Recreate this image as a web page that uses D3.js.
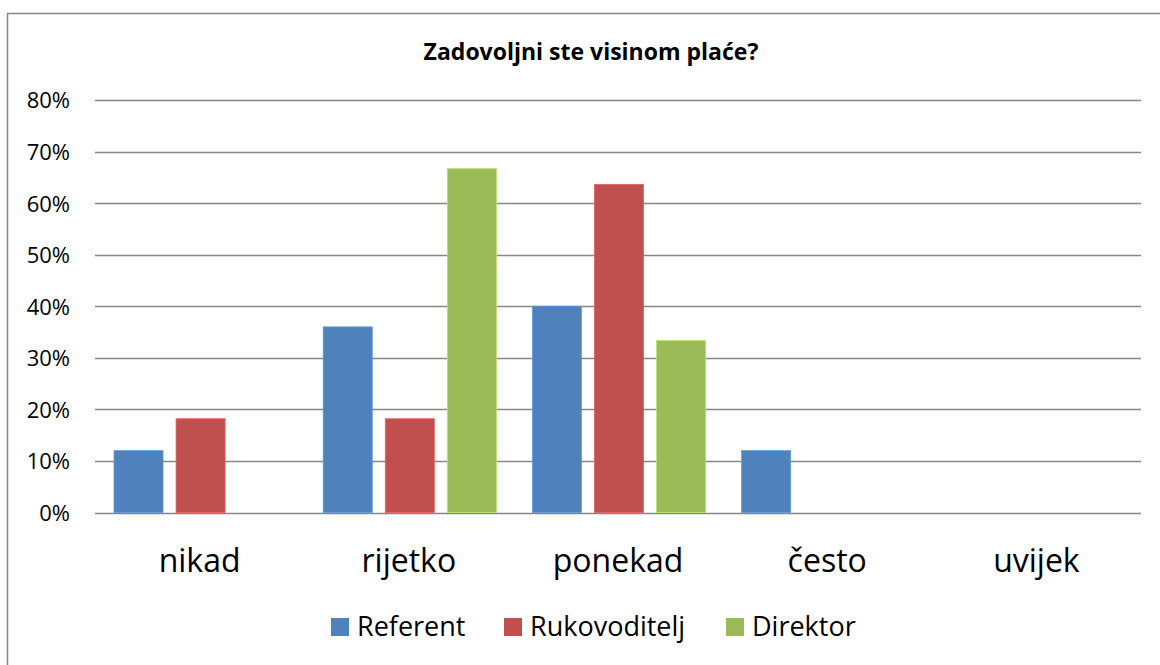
<!DOCTYPE html>
<html>
<head>
<meta charset="utf-8">
<script src="https://cdn.jsdelivr.net/npm/d3@7"></script>
<style>
  body { margin: 0; background: #fff; }
  text { font-family: "Open Sans", Lato, sans-serif; fill: #000; }
</style>
</head>
<body>
<div id="chart"></div>
<script>
var categories = ["nikad", "rijetko", "ponekad", "često", "uvijek"];
var seriesNames = ["Referent", "Rukovoditelj", "Direktor"];
var referent = [0.12, 0.36, 0.40, 0.12, 0];
var rukovoditelj = [0.1818, 0.1818, 0.6364, 0, 0];
var direktor = [0, 0.6667, 0.3333, 0, 0];
var yTicks = [0, 0.1, 0.2, 0.3, 0.4, 0.5, 0.6, 0.7, 0.8];
var colors = ["#4F81BD", "#C0504D", "#9BBB59"];

var width = 1160, height = 665;
var series = [referent, rukovoditelj, direktor];
var fontFamily = "'Open Sans', Lato, sans-serif";

var svg = d3.select("#chart").append("svg")
    .attr("width", width)
    .attr("height", height);

// chart frame (runs past the right and bottom edges of the picture)
svg.append("rect")
    .attr("x", 7.5).attr("y", 13.5)
    .attr("width", 1200).attr("height", 700)
    .attr("fill", "#fff")
    .attr("stroke", "#878787")
    .attr("stroke-width", 1.5);

svg.append("text")
    .attr("x", 591).attr("y", 60)
    .attr("text-anchor", "middle")
    .style("font-size", "23px")
    .style("font-weight", "bold")
    .text("Zadovoljni ste visinom plaće?");

var x0 = d3.scaleBand().domain(categories).range([95, 1141]);
var y = d3.scaleLinear().domain([0, 0.8]).range([512.5, 100]);

// bars inside each category: outer gap 19px, bar ~48.7px, inner gap 13px
var x1 = d3.scaleBand().domain(seriesNames)
    .range([19, x0.bandwidth() - 17])
    .paddingInner(0.21);

// gridlines
svg.append("g").selectAll("line").data(yTicks).enter().append("line")
    .attr("x1", 95).attr("x2", 1141)
    .attr("y1", function(d){ return Math.round(y(d)) + 0.5; })
    .attr("y2", function(d){ return Math.round(y(d)) + 0.5; })
    .attr("stroke", "#868686")
    .attr("stroke-width", 1.3);

var yAxis = d3.axisLeft(y).tickValues(yTicks)
    .tickFormat(d3.format(".0%")).tickSize(0).tickPadding(25);
var gy = svg.append("g").attr("transform", "translate(95,0)").call(yAxis);
gy.select(".domain").remove();
gy.selectAll("text")
    .style("font-size", "22px")
    .style("font-family", fontFamily)
    .attr("dy", "0.36em")
    .attr("fill", "#000");

// bars
var groups = svg.append("g").selectAll("g").data(series).enter().append("g")
    .attr("fill", function(d, i){ return colors[i]; });
groups.each(function(vals, si){
    d3.select(this).selectAll("rect").data(vals).enter().append("rect")
        .attr("x", function(d, ci){ return x0(categories[ci]) + x1(seriesNames[si]); })
        .attr("width", x1.bandwidth())
        .attr("y", function(d){ return y(d); })
        .attr("height", function(d){ return y(0) - y(d); })
        .attr("stroke", function(){ return d3.rgb(colors[si]).brighter(0.5); })
        .attr("stroke-width", function(d){ return d > 0 ? 0.8 : 0; });
});

// category labels
var xAxis = d3.axisBottom(x0).tickSize(0).tickPadding(37);
var gx = svg.append("g").attr("transform", "translate(0," + y(0) + ")").call(xAxis);
gx.select(".domain").remove();
gx.selectAll("text")
    .style("font-size", "32px")
    .style("font-family", fontFamily)
    .attr("fill", "#000");

// legend
var legendX = [331, 504, 726];
var legend = svg.append("g").selectAll("g").data(seriesNames).enter().append("g")
    .attr("transform", function(d, i){ return "translate(" + legendX[i] + ",618)"; });
legend.append("rect")
    .attr("width", 18).attr("height", 18)
    .attr("fill", function(d, i){ return colors[i]; });
legend.append("text")
    .attr("x", 26).attr("y", 18)
    .style("font-size", "27px")
    .text(function(d){ return d; });
</script>
</body>
</html>
